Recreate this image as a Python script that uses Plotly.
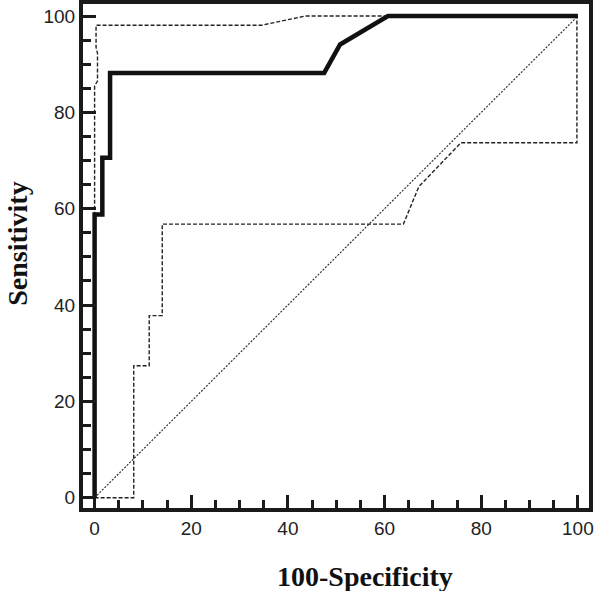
import plotly.graph_objects as go

# ROC curve (100-Specificity, Sensitivity)
roc_x = [0, 0, 1.6, 1.6, 3.2, 3.2, 47.5, 50.8, 60.7, 100]
roc_y = [0, 58.8, 58.8, 70.6, 70.6, 88.2, 88.2, 94.1, 100, 100]

# Upper confidence bound
upper_x = [0, 0, 0.6, 0.6, 0.3, 0.3, 34.6, 43.6, 100]
upper_y = [0, 85.5, 86.5, 92.3, 93.5, 98.1, 98.1, 100, 100]

# Lower confidence bound
lower_x = [0, 8.1, 8.1, 11.3, 11.3, 14.0, 14.0, 63.9, 67.1, 75.8, 99.8, 99.8]
lower_y = [0, 0, 27.4, 27.4, 37.8, 37.8, 56.8, 56.8, 64.6, 73.7, 73.7, 100]

# Reference diagonal
diag_x = [0, 100]
diag_y = [0, 100]

x_ticks = [0, 20, 40, 60, 80, 100]
y_ticks = [0, 20, 40, 60, 80, 100]

x_title = "100-Specificity"
y_title = "Sensitivity"

fig = go.Figure()
fig.add_trace(go.Scatter(x=diag_x, y=diag_y, mode="lines",
                         line=dict(color="#333333", width=1.2, dash="2px,1.5px"),
                         hoverinfo="skip", showlegend=False))
fig.add_trace(go.Scatter(x=upper_x, y=upper_y, mode="lines",
                         line=dict(color="#222222", width=1.4, dash="4px,2px"),
                         showlegend=False))
fig.add_trace(go.Scatter(x=lower_x, y=lower_y, mode="lines",
                         line=dict(color="#222222", width=1.4, dash="4px,2px"),
                         showlegend=False))
fig.add_trace(go.Scatter(x=roc_x, y=roc_y, mode="lines",
                         line=dict(color="#111111", width=4.5),
                         showlegend=False))

axis_common = dict(
    showgrid=False, zeroline=False, automargin=False,
    showline=True, linecolor="#1a1a1a", linewidth=4, mirror=True,
    ticks="inside", ticklen=13, tickwidth=3, tickcolor="#1a1a1a",
    tickfont=dict(family="Liberation Sans, Arial, sans-serif", size=19, color="#222222"),
    minor=dict(ticks="inside", ticklen=8, tickwidth=3, tickcolor="#1a1a1a", dtick=5, showgrid=False),
)

fig.update_xaxes(range=[-2.4, 102.3], tickvals=x_ticks, ticktext=[str(v) for v in x_ticks],
                 **axis_common)
fig.update_yaxes(range=[-2.14, 102.5], tickvals=y_ticks, ticktext=[str(v) for v in y_ticks],
                 **axis_common)

serif = "Liberation Serif, Times New Roman, serif"
fig.add_annotation(text="<b>" + x_title + "</b>", xref="paper", yref="paper",
                   x=(365 - 83) / 505.6, y=-(577 - 508.3) / 504.3,
                   xanchor="center", yanchor="middle", showarrow=False,
                   font=dict(family=serif, size=28, color="#111111"))
fig.add_annotation(text="<b>" + y_title + "</b>", xref="paper", yref="paper",
                   x=-(83 - 18) / 505.6, y=(508.3 - 244) / 504.3,
                   xanchor="center", yanchor="middle", showarrow=False, textangle=-90,
                   borderpad=0,
                   font=dict(family=serif, size=28, color="#111111"))

fig.update_layout(
    width=600, height=591,
    margin=dict(l=83, r=11.4, t=4, b=82.7),
    plot_bgcolor="white", paper_bgcolor="white",
)

fig.write_html("out.html", config={"displayModeBar": False},
               post_script="document.body.style.margin='0';")
